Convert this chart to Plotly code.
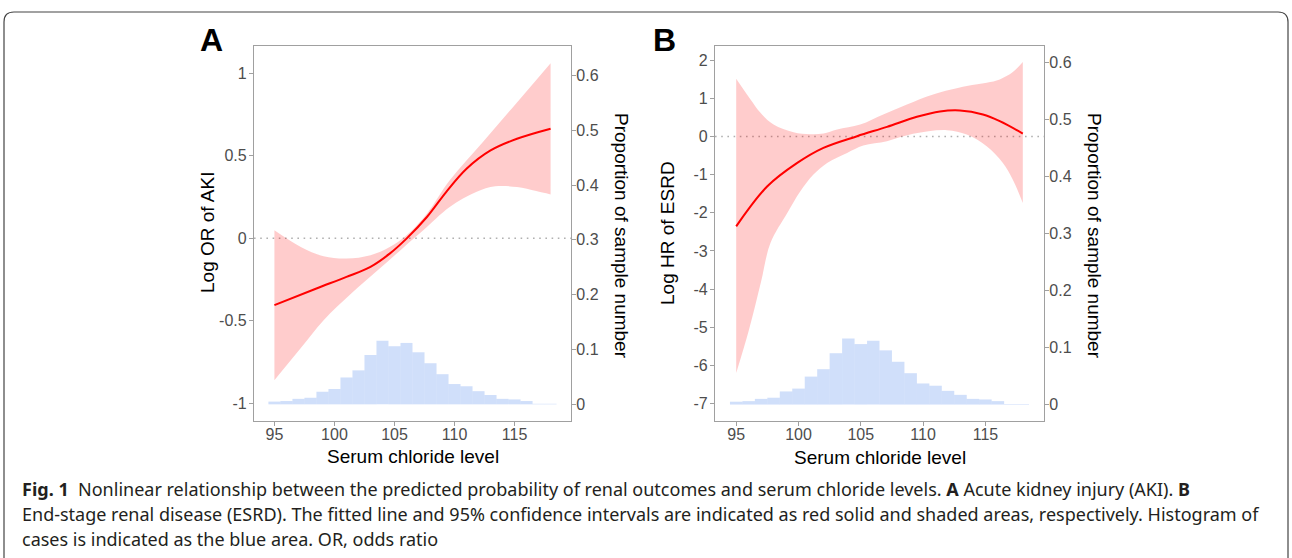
import plotly.graph_objects as go

# ---------------- data ----------------
hist_centers = [95, 96, 97, 98, 99, 100, 101, 102, 103, 104, 105, 106,
                107, 108, 109, 110, 111, 112, 113, 114, 115, 116, 117, 118]
hist_prop = [0.005, 0.006, 0.010, 0.012, 0.023, 0.028, 0.049, 0.062, 0.090, 0.116,
             0.106, 0.112, 0.095, 0.075, 0.055, 0.037, 0.033, 0.024, 0.017, 0.010,
             0.009, 0.006, 0.001, 0.001]

# Panel A: log OR of AKI
a_fit_x = [95, 98.5, 101, 103, 104.6, 106, 107.7, 109.3, 111, 113, 115.2, 118]
a_fit_y = [-0.405, -0.304, -0.234, -0.173, -0.093, -0.002, 0.129, 0.280, 0.421, 0.532, 0.603, 0.664]
a_up_x = [95, 97.2, 99.1, 101, 103, 104.6, 106, 107.7, 109.6, 112.4, 115.2, 118]
a_up_y = [0.048, -0.053, -0.109, -0.123, -0.103, -0.053, 0.018, 0.149, 0.351, 0.587, 0.823, 1.061]
a_lo_x = [95, 97.2, 99.1, 101.4, 103.6, 105.8, 107.4, 109.6, 111.8, 113.4, 115.2, 116.8, 118]
a_lo_y = [-0.860, -0.665, -0.496, -0.335, -0.194, -0.053, 0.048, 0.189, 0.280, 0.315, 0.310, 0.286, 0.266]

# Panel B: log HR of ESRD
b_fit_x = [95, 97.5, 99.9, 102, 104.7, 107.1, 109.5, 111.35, 112.95, 114.8, 116.15, 118]
b_fit_y = [-2.356, -1.305, -0.692, -0.298, 0.009, 0.254, 0.517, 0.657, 0.683, 0.578, 0.403, 0.079]
b_up_x = [95, 96.15, 96.95, 98.0, 99.6, 100.95, 102, 103.1, 104.95, 106.8, 108.7, 110.8,
          113.5, 115.1, 116.15, 117.2, 118]
b_up_y = [1.515, 0.972, 0.622, 0.315, 0.114, 0.061, 0.079, 0.184, 0.315, 0.578, 0.841, 1.103,
          1.322, 1.410, 1.497, 1.689, 1.952]
b_lo_x = [95, 96, 97, 97.75, 99.1, 100.15, 101.2, 102.3, 103.9, 105.2, 107.1, 109.2,
          111.9, 113.5, 115.1, 116.4, 117.2, 118]
b_lo_y = [-6.2, -5.1, -3.8, -2.793, -2.005, -1.436, -0.998, -0.692, -0.429, -0.236, -0.122, 0.070,
          0.166, 0.052, -0.254, -0.692, -1.130, -1.742]

x_ticks = [95, 100, 105, 110, 115]
a_y_ticks = [-1, -0.5, 0, 0.5, 1]
a_y_labels = ["-1", "-0.5", "0", "0.5", "1"]
b_y_ticks = [-7, -6, -5, -4, -3, -2, -1, 0, 1, 2]
b_y_labels = ["-7", "-6", "-5", "-4", "-3", "-2", "-1", "0", "1", "2"]
prop_ticks = [0, 0.1, 0.2, 0.3, 0.4, 0.5, 0.6]
prop_labels = ["0", "0.1", "0.2", "0.3", "0.4", "0.5", "0.6"]

caption_lines = [
    "<b>Fig. 1</b>  Nonlinear relationship between the predicted probability of renal outcomes and serum chloride levels. <b>A</b> Acute kidney injury (AKI). <b>B</b>",
    "End-stage renal disease (ESRD). The fitted line and 95% confidence intervals are indicated as red solid and shaded areas, respectively. Histogram of",
    "cases is indicated as the blue area. OR, odds ratio",
]

# ---------------- styling ----------------
W, H = 1292, 558
RED = "#ff0000"
BAND = "rgba(255,0,0,0.2)"
BLUE = "rgba(100,149,237,0.3)"
AXC = "#a0a0a0"
TICKC = "#4d4d4d"
FONT = "Liberation Sans, Arial, sans-serif"


def px(x):
    return x / W


def py(y):
    return 1 - y / H


fig = go.Figure()


def add_panel(xa, ya, ya2, fit_x, fit_y, up_x, up_y, lo_x, lo_y):
    fig.add_trace(go.Bar(x=hist_centers, y=hist_prop, width=1, marker_color=BLUE,
                         marker_line_width=0, xaxis=xa, yaxis=ya2, showlegend=False))
    fig.add_trace(go.Scatter(x=lo_x, y=lo_y, mode="lines", line=dict(width=0, shape="spline"),
                             xaxis=xa, yaxis=ya, showlegend=False))
    fig.add_trace(go.Scatter(x=up_x, y=up_y, mode="lines", line=dict(width=0, shape="spline"),
                             fill="tonexty", fillcolor=BAND, xaxis=xa, yaxis=ya, showlegend=False))
    fig.add_trace(go.Scatter(x=fit_x, y=fit_y, mode="lines",
                             line=dict(color=RED, width=2, shape="spline"),
                             xaxis=xa, yaxis=ya, showlegend=False))


add_panel("x", "y", "y2", a_fit_x, a_fit_y, a_up_x, a_up_y, a_lo_x, a_lo_y)
add_panel("x2", "y3", "y4", b_fit_x, b_fit_y, b_up_x, b_up_y, b_lo_x, b_lo_y)

ydom = [py(421), py(45.5)]
xdomA = [px(254), px(571)]
xdomB = [px(715), px(1044)]

common_x = dict(range=[93.3, 119.7], tickvals=x_ticks, showline=True, linecolor=AXC, linewidth=1.2,
                mirror=True, ticks="outside", ticklen=4, tickcolor=AXC, showgrid=False, zeroline=False,
                ticklabelstandoff=-5,
                tickfont=dict(family=FONT, size=16, color=TICKC))
common_y = dict(showline=True, linecolor=AXC, linewidth=1.2, ticks="outside", ticklen=4, tickcolor=AXC,
                showgrid=False, zeroline=False, tickfont=dict(family=FONT, size=16, color=TICKC))

fig.update_layout(
    width=W, height=H,
    margin=dict(l=0, r=0, t=0, b=0),
    paper_bgcolor="white", plot_bgcolor="white",
    showlegend=False,
    xaxis=dict(domain=xdomA, anchor="y", **common_x),
    yaxis=dict(domain=ydom, anchor="x", range=[-1.107, 1.168], tickvals=a_y_ticks,
               ticktext=a_y_labels, ticklabelstandoff=-1, **common_y),
    yaxis2=dict(overlaying="y", side="right", anchor="x", range=[-0.0304, 0.6546],
                tickvals=prop_ticks, ticktext=prop_labels, ticklabelstandoff=-3, **common_y),
    xaxis2=dict(domain=xdomB, anchor="y3", **common_x),
    yaxis3=dict(domain=ydom, anchor="x2", range=[-7.457, 2.386], tickvals=b_y_ticks,
                ticktext=b_y_labels, ticklabelstandoff=-1, **common_y),
    yaxis4=dict(overlaying="y3", side="right", anchor="x2", range=[-0.0288, 0.6293],
                tickvals=prop_ticks, ticktext=prop_labels, ticklabelstandoff=-3, **common_y),
)

# reference lines at 0 (dotted)
for xr, yr in (("x domain", "y"), ("x2 domain", "y3")):
    fig.add_shape(type="line", xref=xr, yref=yr, x0=0, x1=1, y0=0, y1=0,
                  line=dict(color="#b0b0b0", width=1.6, dash="1.6px,4.6px"), layer="below")

# outer rounded frame
r = 10
path = (f"M {px(4)},{py(600)} L {px(4)},{py(12 + r)} Q {px(4)},{py(12)} {px(4 + r)},{py(12)} "
        f"L {px(1288 - r)},{py(12)} Q {px(1288)},{py(12)} {px(1288)},{py(12 + r)} L {px(1288)},{py(600)}")
fig.add_shape(type="path", xref="paper", yref="paper", path=path,
              line=dict(color="#444444", width=1.2))

ann = []
# panel letters
ann.append(dict(text="<b>A</b>", x=px(211), y=py(40), font=dict(family=FONT, size=32, color="black")))
ann.append(dict(text="<b>B</b>", x=px(665), y=py(40), font=dict(family=FONT, size=32, color="black")))
# axis titles
tf = dict(family=FONT, size=19, color="black")
ann.append(dict(text="Serum chloride level", x=px(412.5), y=py(456), font=tf))
ann.append(dict(text="Serum chloride level", x=px(879.5), y=py(457), font=tf))
ann.append(dict(text="Log OR of AKI", x=px(207), y=py(233), textangle=-90, font=tf))
ann.append(dict(text="Log HR of ESRD", x=px(667), y=py(233), textangle=-90, font=tf))
ann.append(dict(text="Proportion of sample number", x=px(622), y=py(236), textangle=90, font=tf))
ann.append(dict(text="Proportion of sample number", x=px(1095), y=py(236), textangle=90, font=tf))
for a in ann:
    a.update(xref="paper", yref="paper", showarrow=False, xanchor="center", yanchor="middle")

cf = dict(family="Noto Sans, sans-serif", size=18, color="#231f20")
for i, line in enumerate(caption_lines):
    ann.append(dict(text=line, x=px(20), y=py(489 + 25 * i), xref="paper", yref="paper",
                    showarrow=False, xanchor="left", yanchor="middle", font=cf))

fig.update_layout(annotations=ann)
fig.write_html("out.html", config={"displayModeBar": False},
               post_script="document.body.style.margin='0';document.body.style.overflow='hidden';")
